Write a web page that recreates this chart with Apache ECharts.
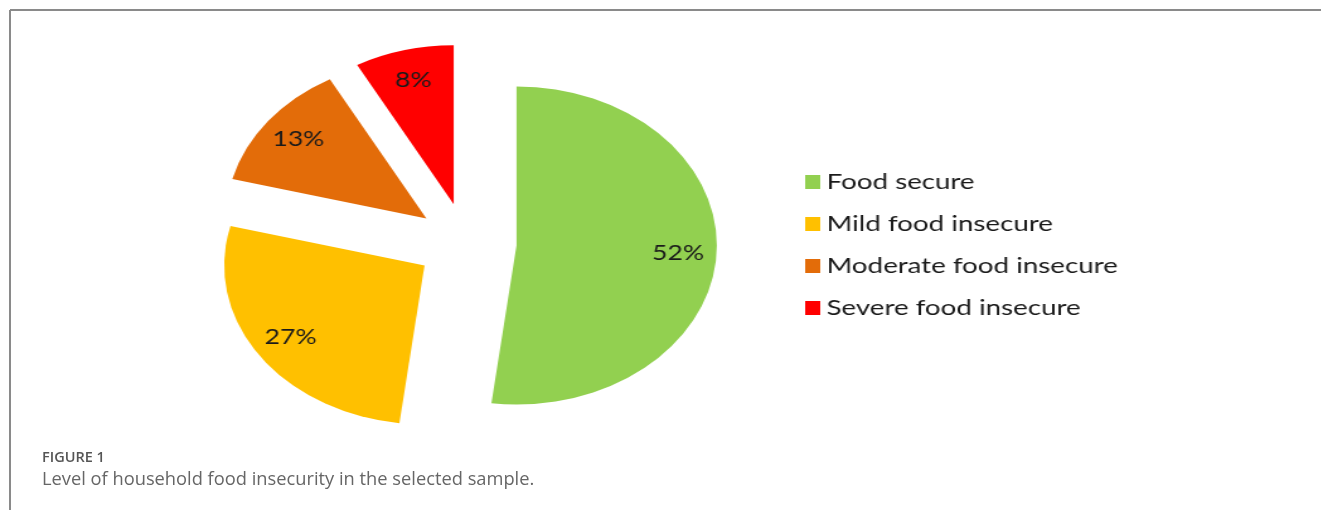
<!DOCTYPE html>
<html>
<head>
<meta charset="utf-8">
<script src="https://cdn.jsdelivr.net/npm/echarts@6/dist/echarts.min.js"></script>
<style>
html,body{margin:0;padding:0;background:#fff;}
#wrap{position:relative;width:1322px;height:510px;overflow:hidden;}
#frame{position:absolute;left:0;top:0;width:1322px;height:510px;}
#pie{position:absolute;left:0;top:0;width:1049px;height:510px;transform:scaleX(1.26);transform-origin:0 0;}
</style>
</head>
<body>
<div id="wrap"><div id="frame"></div><div id="pie"></div></div>
<script>
const categories = ['Food secure', 'Mild food insecure', 'Moderate food insecure', 'Severe food insecure'];
const values = [52, 27, 13, 8];
const colors = ['#92D050', '#FFC000', '#E36C09', '#FF0000'];
const captionLabel = 'FIGURE 1';
const captionText = 'Level of household food insecurity in the selected sample.';

const frame = echarts.init(document.getElementById('frame'), null, {renderer: 'canvas'});
frame.setOption({
  animation: false,
  graphic: [
    {type: 'line', shape: {x1: 10, y1: 10, x2: 1321, y2: 10}, style: {stroke: '#8a8a8a', lineWidth: 2}},
    {type: 'line', shape: {x1: 10, y1: 10, x2: 10, y2: 510}, style: {stroke: '#8a8a8a', lineWidth: 2}},
    {type: 'text', left: 42, top: 450, style: {text: captionLabel, font: '600 14.5px "Open Sans", sans-serif', fill: '#555'}},
    {type: 'text', left: 42, top: 471, style: {text: captionText, font: '18.3px "Open Sans", sans-serif', fill: '#666'}}
  ]
});

const pie = echarts.init(document.getElementById('pie'), null, {renderer: 'canvas'});
const mainData = categories.map((c, i) => ({name: c, value: values[i], selected: true, itemStyle: {color: colors[i]}}));
const labelData = categories.map((c, i) => ({name: c, value: values[i], selected: true}));
pie.setOption({
  animation: false,
  legend: {
    orient: 'vertical',
    left: 634,
    top: 166,
    padding: 5,
    itemWidth: 12,
    itemHeight: 14,
    itemGap: 20,
    itemStyle: {borderWidth: 0},
    icon: 'rect',
    selectedMode: false,
    textStyle: {fontFamily: 'Lato', fontSize: 22, color: '#1a1a1a'},
    data: categories
  },
  series: [
    {
      type: 'pie',
      center: [370, 243],
      radius: [0, 159],
      startAngle: 90,
      clockwise: true,
      selectedMode: 'multiple',
      selectedOffset: 40,
      silent: true,
      label: {show: false},
      labelLine: {show: false},
      emphasis: {disabled: true},
      data: mainData
    },
    {
      type: 'pie',
      center: [370, 243],
      radius: [92, 159],
      startAngle: 90,
      clockwise: true,
      selectedMode: 'multiple',
      selectedOffset: 40,
      silent: true,
      itemStyle: {color: 'rgba(0,0,0,0)'},
      label: {show: true, position: 'inside', formatter: '{c}%', fontFamily: 'Lato', fontSize: 21, color: '#1a1a1a'},
      labelLine: {show: false},
      emphasis: {disabled: true},
      data: labelData
    }
  ]
});
</script>
</body>
</html>
